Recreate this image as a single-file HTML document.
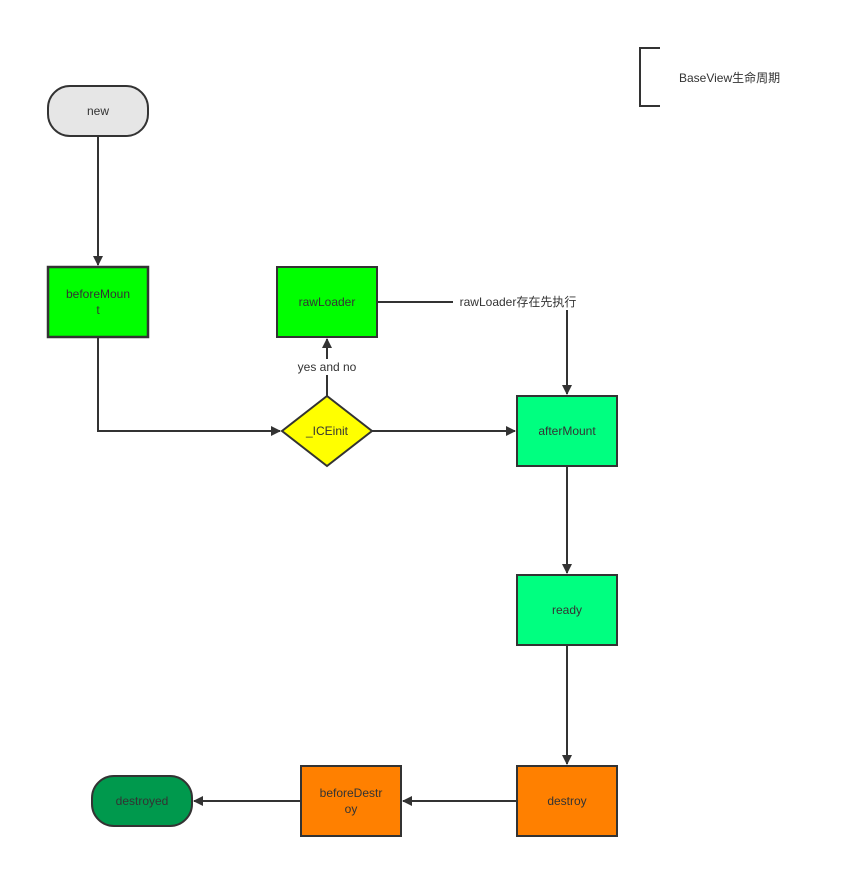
<!DOCTYPE html>
<html><head><meta charset="utf-8"><style>
html,body{margin:0;padding:0;background:#fff;}
svg text{font-family:"Liberation Sans","Noto Sans CJK SC",sans-serif;font-size:12px;fill:#333;}
</style></head><body>
<svg width="860" height="868" viewBox="0 0 860 868" xmlns="http://www.w3.org/2000/svg">
<defs><marker id="a" markerWidth="10" markerHeight="10" refX="9" refY="5" orient="auto" markerUnits="userSpaceOnUse"><path d="M0,0 L10,5 L0,10 Z" fill="#333"/></marker></defs>
<g stroke="#333" stroke-width="2" fill="none">
<path d="M98,136 V265" marker-end="url(#a)"/>
<path d="M98,337 V431 H280" marker-end="url(#a)"/>
<path d="M327,396 V339" marker-end="url(#a)"/>
<path d="M372,431 H515" marker-end="url(#a)"/>
<path d="M377,302 H567 V394" marker-end="url(#a)"/>
<path d="M567,466 V573" marker-end="url(#a)"/>
<path d="M567,645 V764" marker-end="url(#a)"/>
<path d="M517,801 H403" marker-end="url(#a)"/>
<path d="M301,801 H194" marker-end="url(#a)"/>
<path d="M660,48 H640 V106 H660"/>
</g>
<rect x="288" y="359" width="78" height="16" fill="#fff"/>
<rect x="453" y="294" width="130" height="16" fill="#fff"/>
<g stroke="#333" stroke-width="2">
<rect x="48" y="86" width="100" height="50" rx="22" fill="#e6e6e6"/>
<rect x="48" y="267" width="100" height="70" fill="#00ff00" stroke-width="2.5"/>
<rect x="277" y="267" width="100" height="70" fill="#00ff00"/>
<path d="M327,396 L372,431 L327,466 L282,431 Z" fill="#ffff00"/>
<rect x="517" y="396" width="100" height="70" fill="#00ff80"/>
<rect x="517" y="575" width="100" height="70" fill="#00ff80"/>
<rect x="517" y="766" width="100" height="70" fill="#ff8000"/>
<rect x="301" y="766" width="100" height="70" fill="#ff8000"/>
<rect x="92" y="776" width="100" height="50" rx="22" fill="#00994d"/>
</g>
<g text-anchor="middle">
<text x="98" y="115">new</text>
<text x="98" y="298">beforeMoun</text>
<text x="98" y="314">t</text>
<text x="327" y="306">rawLoader</text>
<text x="327" y="371">yes and no</text>
<text x="327" y="435">_ICEinit</text>
<text x="567" y="435">afterMount</text>
<text x="567" y="614">ready</text>
<text x="567" y="805">destroy</text>
<text x="351" y="797">beforeDestr</text>
<text x="351" y="813">oy</text>
<text x="142" y="805">destroyed</text>
<text x="518" y="306">rawLoader存在先执行</text>
</g>
<text x="679" y="82">BaseView生命周期</text>
</svg>
</body></html>
